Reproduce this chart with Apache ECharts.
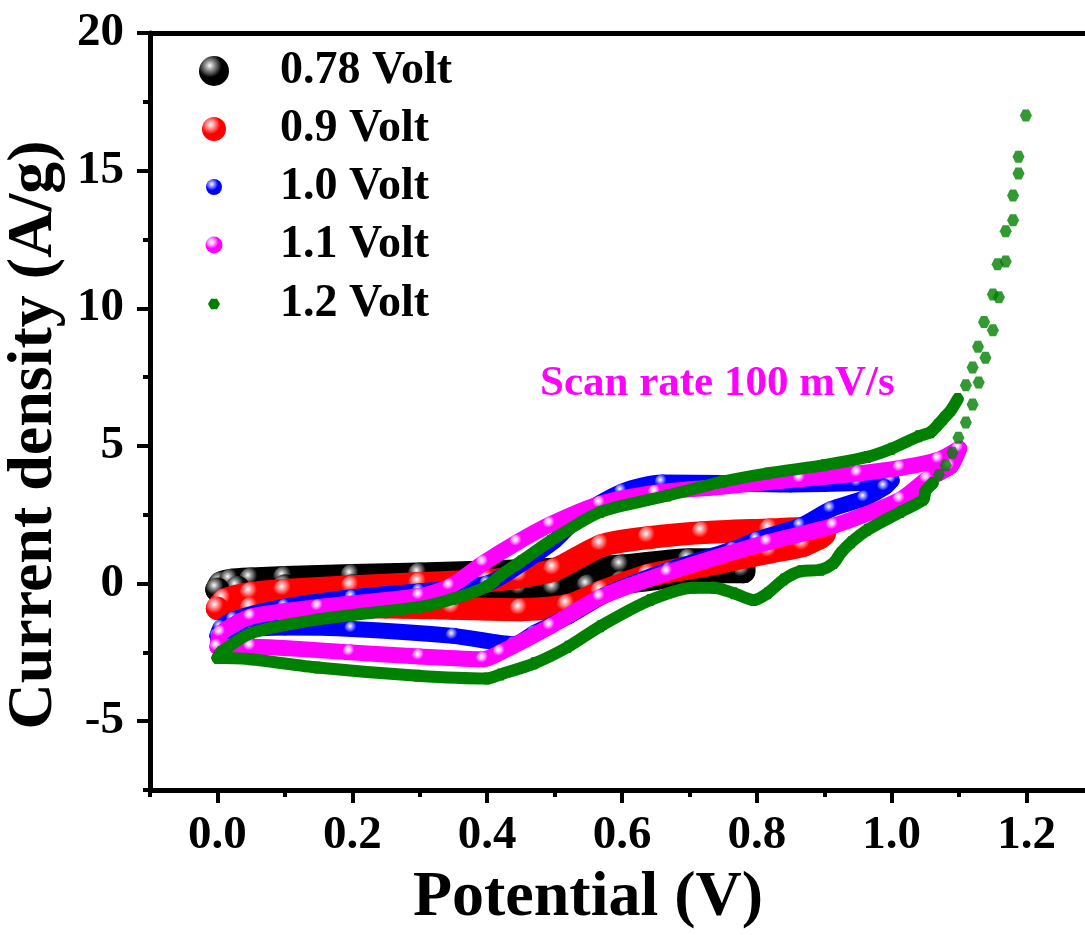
<!DOCTYPE html>
<html>
<head>
<meta charset="utf-8">
<script src="https://cdn.jsdelivr.net/npm/echarts@6/dist/echarts.min.js"></script>
<style>
  html, body { margin: 0; padding: 0; background: #fff; }
  #chart { width: 1085px; height: 935px; }
</style>
</head>
<body>
<div id="chart"></div>
<script>
// values (V, A/g)
const blackV = [0, 0.005, 0.02, 0.05, 0.1, 0.2, 0.3, 0.4, 0.5, 0.6, 0.7, 0.75, 0.78, 0.78, 0.75, 0.7, 0.65, 0.6, 0.55, 0.5, 0.45, 0.4, 0.3, 0.2, 0.1, 0.03, 0];
const blackI = [-0.22, 0.0, 0.1, 0.15, 0.2, 0.27, 0.33, 0.4, 0.5, 0.62, 0.85, 0.85, 0.65, 0.45, 0.45, 0.4, 0.2, 0.05, -0.1, -0.2, -0.2, -0.15, -0.1, -0.1, -0.1, -0.15, -0.22];

const redV = [0, 0.01, 0.05, 0.1, 0.2, 0.3, 0.4, 0.45, 0.5, 0.57, 0.64, 0.72, 0.82, 0.87, 0.9, 0.87, 0.82, 0.72, 0.64, 0.57, 0.52, 0.45, 0.35, 0.25, 0.15, 0.05, 0];
const redI = [-0.9, -0.6, -0.36, -0.25, -0.12, 0.0, 0.1, 0.25, 0.5, 1.38, 1.67, 1.85, 1.95, 2.0, 1.8, 1.4, 1.15, 0.65, 0.3, -0.3, -0.8, -0.95, -0.9, -0.85, -0.85, -0.9, -0.9];

const blueV = [0, 0.005, 0.024, 0.1, 0.2, 0.3, 0.4, 0.45, 0.5, 0.54, 0.6, 0.66, 0.75, 0.85, 0.95, 1.0, 0.99, 0.96, 0.91, 0.865, 0.8, 0.765, 0.67, 0.58, 0.52, 0.47, 0.44, 0.35, 0.2, 0.1, 0.03, 0];
const blueI = [-1.9, -1.6, -1.3, -0.84, -0.5, -0.28, 0.0, 0.7, 1.55, 2.5, 3.34, 3.67, 3.65, 3.6, 3.65, 3.75, 3.5, 3.1, 2.7, 2.1, 1.6, 1.25, 0.5, -0.35, -1.2, -1.8, -2.2, -1.9, -1.65, -1.6, -1.7, -1.9];

const magV = [0, 0.005, 0.05, 0.15, 0.3, 0.345, 0.395, 0.445, 0.494, 0.568, 0.65, 0.74, 0.865, 0.95, 1.013, 1.07, 1.1, 1.087, 1.053, 1.013, 0.914, 0.816, 0.668, 0.568, 0.494, 0.42, 0.395, 0.3, 0.197, 0.05, 0];
const magI = [-2.3, -1.8, -1.2, -0.85, -0.45, -0.1, 0.75, 1.5, 2.15, 2.9, 3.3, 3.5, 3.8, 4.0, 4.2, 4.5, 4.9, 4.25, 3.8, 3.05, 2.1, 1.5, 0.4, -0.5, -1.55, -2.5, -2.75, -2.65, -2.5, -2.3, -2.3];

const greenFwdV = [0, 0.005, 0.05, 0.15, 0.3, 0.35, 0.4, 0.42, 0.45, 0.494, 0.568, 0.668, 0.75, 0.816, 0.9, 0.964, 1.0, 1.04, 1.058, 1.068, 1.077, 1.088, 1.098];
const greenFwdI = [-2.7, -2.5, -1.8, -1.3, -0.85, -0.55, -0.1, 0.3, 0.8, 1.55, 2.6, 3.2, 3.7, 4.0, 4.3, 4.6, 4.9, 5.35, 5.5, 5.75, 6.0, 6.3, 6.7];
const greenRevV = [1.061, 1.05, 1.047, 1.013, 0.964, 0.94, 0.924, 0.914, 0.895, 0.865, 0.84, 0.816, 0.795, 0.766, 0.736, 0.706, 0.642, 0.568, 0.52, 0.47, 0.42, 0.4, 0.297, 0.148, 0.05, 0];
const greenRevI = [3.65, 3.35, 3.05, 2.6, 1.95, 1.5, 1.1, 0.75, 0.5, 0.45, 0.15, -0.35, -0.6, -0.35, -0.15, -0.15, -0.6, -1.55, -2.3, -2.9, -3.3, -3.45, -3.35, -3.05, -2.75, -2.7];
// sparse points of the steep rise
const spikeV = [1.11, 1.12, 1.128, 1.137, 1.15, 1.157, 1.169, 1.18, 1.188, 1.199, 1.188, 1.18, 1.169, 1.159, 1.15, 1.139, 1.129, 1.12, 1.11, 1.099, 1.09, 1.08, 1.07];
const spikeI = [7.2, 7.85, 8.6, 9.5, 10.5, 11.6, 12.8, 14.1, 15.5, 17.0, 14.9, 13.2, 11.7, 10.4, 9.2, 8.2, 7.3, 6.5, 5.85, 5.3, 4.75, 4.3, 3.95];

const seriesNames = ['0.78 Volt', '0.9 Volt', '1.0 Volt', '1.1 Volt', '1.2 Volt'];
const xLabels = [0, 0.2, 0.4, 0.6, 0.8, 1.0, 1.2];
const yLabels = [-5, 0, 5, 10, 15, 20];

const FONT = "'Liberation Serif', 'Times New Roman', serif";
const HEX = 'path://M-1,0L-0.5,-0.866L0.5,-0.866L1,0L0.5,0.866L-0.5,0.866Z';

function zip(v, i) {
  return v.map((x, k) => [x, i[k]]);
}
// shaded ball like the origin markers
function sphere(c, hi) {
  return {
    type: 'radial', x: 0.36, y: 0.32, r: 0.72,
    colorStops: [
      { offset: 0, color: '#fff' },
      { offset: 0.2, color: hi },
      { offset: 0.55, color: c },
      { offset: 1, color: c }
    ]
  };
}

// marker styles (curve size, legend size)
const styles = [
  { color: '#000000', hi: '#9a9a9a', size: 24, legend: 30, icon: 'circle' },
  { color: '#ff0000', hi: '#ffa0a0', size: 23, legend: 24, icon: 'circle' },
  { color: '#0000ff', hi: '#a0a0ff', size: 16, legend: 16, icon: 'circle' },
  { color: '#ff00ff', hi: '#ffc0ff', size: 16, legend: 17, icon: 'circle' },
  { color: '#008000', hi: '#008000', size: 12, legend: 12, icon: HEX }
];
const rowCenters = [71, 129, 187, 245, 304];

function loop(k, data) {
  const st = styles[k];
  return {
    name: seriesNames[k],
    type: 'line',
    data: data,
    smooth: 0.25,
    symbol: st.icon,
    symbolSize: st.size,
    showSymbol: true,
    z: 2 + k,
    lineStyle: { color: st.color, width: st.size, cap: 'round', join: 'round' },
    itemStyle: { color: k < 4 ? sphere(st.color, st.hi) : st.color },
    emphasis: { disabled: true }
  };
}

const series = [
  loop(0, zip(blackV, blackI)),
  loop(1, zip(redV, redI)),
  loop(2, zip(blueV, blueI)),
  loop(3, zip(magV, magI)),
  loop(4, zip(greenFwdV, greenFwdI)),
  loop(4, zip(greenRevV, greenRevI)),
  {
    name: seriesNames[4],
    type: 'scatter',
    data: zip(spikeV, spikeI),
    symbol: HEX,
    symbolSize: 12,
    z: 7,
    itemStyle: { color: '#008000' },
    emphasis: { disabled: true }
  }
];

const legends = seriesNames.map((n, k) => {
  const s = styles[k].legend;
  return {
    data: [n],
    left: 214 - s / 2,
    top: rowCenters[k] - 23,
    padding: 0,
    icon: styles[k].icon,
    itemWidth: s,
    itemHeight: s,
    selectedMode: false,
    textStyle: {
      fontFamily: FONT, fontWeight: 'bold', fontSize: 46, color: '#000',
      lineHeight: 46, padding: [0, 0, 0, 61 - s / 2]
    }
  };
});

const tickFont = { fontFamily: FONT, fontWeight: 'bold', fontSize: 47, color: '#000' };
const blackLine = { color: '#000', width: 5 };

const chart = echarts.init(document.getElementById('chart'));
chart.setOption({
  animation: false,
  backgroundColor: '#fff',
  legend: legends,
  grid: { left: 150, top: 33, width: 944, height: 757, outerBoundsMode: 'none' },
  xAxis: [
    {
      type: 'value', min: -0.1, max: 1.3, interval: 0.1,
      axisLine: { onZero: false, lineStyle: blackLine },
      axisTick: { length: 7, lineStyle: { color: '#000', width: 4 } },
      axisLabel: Object.assign({}, tickFont, {
        margin: 22,
        customValues: xLabels,
        formatter: v => v.toFixed(1)
      }),
      splitLine: { show: false },
      name: 'Potential (V)',
      nameLocation: 'middle',
      nameGap: 76,
      nameTextStyle: { fontFamily: FONT, fontWeight: 'bold', fontSize: 64, color: '#000', lineHeight: 64, padding: [0, 68, 0, 0] }
    },
    {
      type: 'value', min: -0.1, max: 1.3, position: 'bottom',
      axisLine: { show: false, onZero: false },
      axisTick: { customValues: xLabels, length: 13, lineStyle: { color: '#000', width: 4 } },
      axisLabel: { show: false },
      splitLine: { show: false }
    },
    {
      type: 'value', min: -0.1, max: 1.3, position: 'top',
      axisLine: { onZero: false, lineStyle: blackLine },
      axisTick: { show: false },
      axisLabel: { show: false },
      splitLine: { show: false }
    }
  ],
  yAxis: [
    {
      type: 'value', min: -7.5, max: 20, interval: 2.5,
      axisLine: { show: true, onZero: false, lineStyle: blackLine },
      axisTick: { show: true, length: 7, lineStyle: { color: '#000', width: 4 } },
      axisLabel: Object.assign({}, tickFont, {
        margin: 26,
        customValues: yLabels,
        formatter: v => String(v)
      }),
      splitLine: { show: false },
      name: 'Current density (A/g)',
      nameLocation: 'middle',
      nameRotate: 90,
      nameGap: 83,
      nameTextStyle: { fontFamily: FONT, fontWeight: 'bold', fontSize: 64, color: '#000', lineHeight: 64, padding: [0, 47, 0, 0] }
    },
    {
      type: 'value', min: -7.5, max: 20, position: 'left',
      axisLine: { show: false, onZero: false },
      axisTick: { show: true, customValues: yLabels, length: 13, lineStyle: { color: '#000', width: 4 } },
      axisLabel: { show: false },
      splitLine: { show: false }
    }
  ],
  graphic: [
    {
      type: 'text', left: 540, top: 362,
      style: { text: 'Scan rate 100 mV/s', font: "bold 43px 'Liberation Serif'", fill: '#ff00ff' }
    }
  ],
  series: series
});
</script>
</body>
</html>
